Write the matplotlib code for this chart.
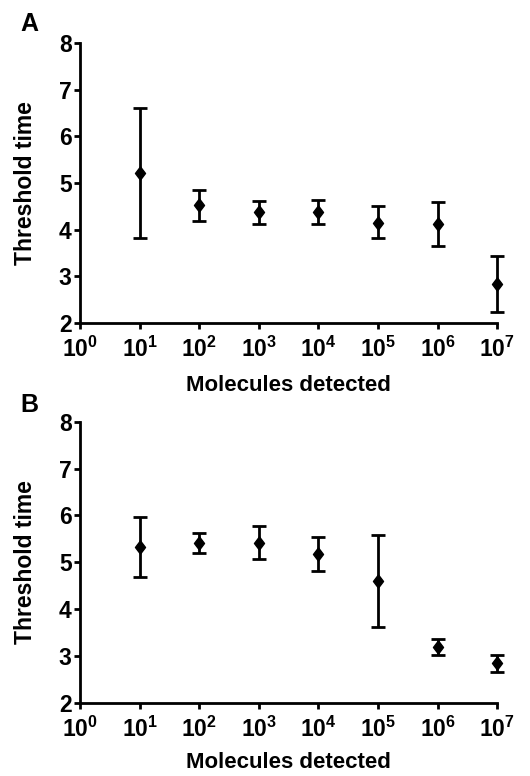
import matplotlib
matplotlib.use("Agg")
import matplotlib.pyplot as plt

plt.rcParams["font.family"] = ["Liberation Sans", "DejaVu Sans"]
plt.rcParams["font.weight"] = "bold"
plt.rcParams["mathtext.fontset"] = "custom"
plt.rcParams["mathtext.rm"] = "Liberation Sans:bold"
plt.rcParams["mathtext.bf"] = "Liberation Sans:bold"

# molecules detected (x positions)
molecules = [1e1, 1e2, 1e3, 1e4, 1e5, 1e6, 1e7]

# panel A: mean threshold time with lower / upper error bounds
a_mean = [5.21, 4.53, 4.38, 4.38, 4.15, 4.12, 2.83]
a_low = [3.82, 4.19, 4.12, 4.12, 3.82, 3.66, 2.23]
a_high = [6.61, 4.84, 4.62, 4.63, 4.51, 4.59, 3.43]

# panel B
b_mean = [5.33, 5.40, 5.42, 5.17, 4.59, 3.19, 2.84]
b_low = [4.68, 5.20, 5.06, 4.82, 3.62, 3.02, 2.66]
b_high = [5.97, 5.62, 5.77, 5.54, 5.57, 3.35, 3.01]

x_ticks = [1e0, 1e1, 1e2, 1e3, 1e4, 1e5, 1e6, 1e7]
x_ticklabels = [r"$\mathbf{10^{%d}}$" % i for i in range(8)]
y_ticks = [2, 3, 4, 5, 6, 7, 8]

# slightly tall diamond like the original marker
diamond = [(0, 0.5), (0.38, 0), (0, -0.5), (-0.38, 0), (0, 0.5)]

fig = plt.figure(figsize=(5.3, 7.76), dpi=100)
ax_a = fig.add_axes([0.151, 0.5838, 0.787, 0.3608])
ax_b = fig.add_axes([0.151, 0.0945, 0.787, 0.3621])


def draw_panel(ax, mean, low, high, xlabel_y):
    yerr = [[m - l for m, l in zip(mean, low)], [h - m for m, h in zip(mean, high)]]
    ax.errorbar(
        molecules,
        mean,
        yerr=yerr,
        fmt="none",
        ecolor="black",
        elinewidth=2.0,
        capsize=4.8,
        capthick=2.0,
        clip_on=False,
    )
    ax.plot(molecules, mean, linestyle="none", marker=diamond,
            markersize=9.5, color="black", clip_on=False, zorder=3)
    ax.set_xscale("log")
    ax.set_xlim(1, 1e7)
    ax.set_ylim(2, 8)
    ax.set_xticks(x_ticks)
    ax.set_xticklabels(x_ticklabels)
    ax.minorticks_off()
    ax.set_yticks(y_ticks)
    ax.spines["top"].set_visible(False)
    ax.spines["right"].set_visible(False)
    for side in ["left", "bottom"]:
        ax.spines[side].set_linewidth(2.0)
    ax.tick_params(axis="both", width=2.0, length=4, labelsize=16.5)
    ax.tick_params(axis="x", pad=6)
    ax.tick_params(axis="y", pad=2)
    for lbl in ax.get_yticklabels():
        lbl.set_fontweight("bold")
    ax.set_ylabel("Threshold time", fontsize=16.5, fontweight="bold")
    ax.set_xlabel("Molecules detected", fontsize=16, fontweight="bold")
    ax.yaxis.set_label_coords(-0.102, 0.5)
    ax.xaxis.set_label_coords(0.5, xlabel_y)


draw_panel(ax_a, a_mean, a_low, a_high, -0.186)
draw_panel(ax_b, b_mean, b_low, b_high, -0.176)

fig.text(0.038, 0.969, "A", fontsize=18, fontweight="bold", ha="left", va="center")
fig.text(0.038, 0.478, "B", fontsize=18, fontweight="bold", ha="left", va="center")

fig.savefig("out.png", dpi=100)
